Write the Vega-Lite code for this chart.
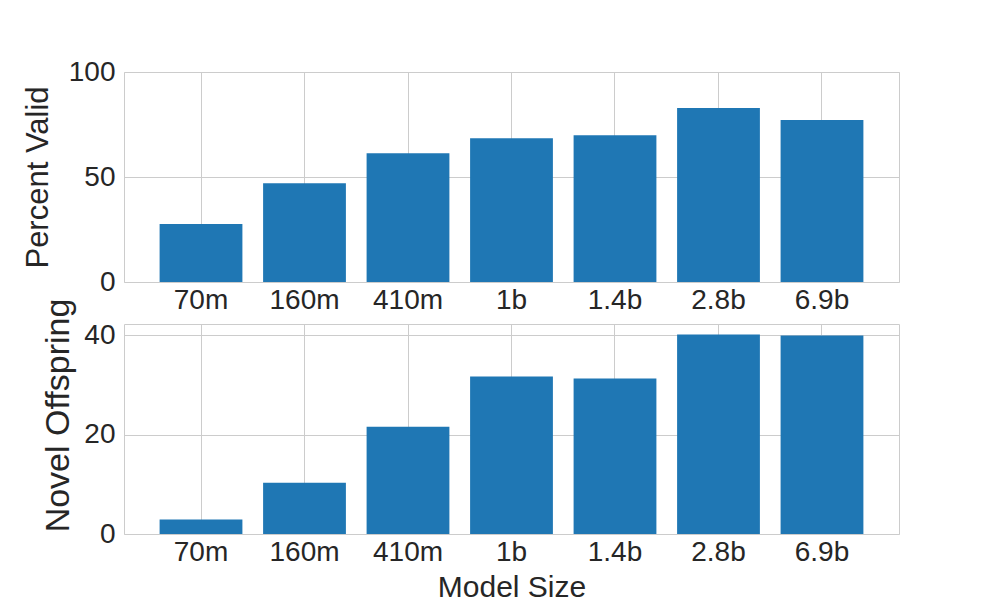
{
  "$schema": "https://vega.github.io/schema/vega-lite/v6.json",
  "data": {"values": [
    {"size": "70m", "valid": 27.6, "novel": 2.9},
    {"size": "160m", "valid": 47.0, "novel": 10.3},
    {"size": "410m", "valid": 61.3, "novel": 21.6},
    {"size": "1b", "valid": 68.5, "novel": 31.7},
    {"size": "1.4b", "valid": 69.9, "novel": 31.3},
    {"size": "2.8b", "valid": 82.8, "novel": 40.2},
    {"size": "6.9b", "valid": 77.1, "novel": 40.0}
  ]},
  "padding": {"left": 21, "top": 57, "right": 0, "bottom": 0},
  "spacing": 42,
  "bounds": "flush",
  "vconcat": [
    {
      "width": 775,
      "height": 210,
      "mark": {"type": "bar", "color": "#1f77b4"},
      "encoding": {
        "x": {"field": "size", "type": "nominal", "sort": null,
              "scale": {"paddingInner": 0.2, "paddingOuter": 0.344},
              "axis": {"title": null, "labelAngle": 0, "bandPosition": 0.5}},
        "y": {"field": "valid", "type": "quantitative",
              "scale": {"domain": [0, 100], "nice": false},
              "axis": {"title": "Percent Valid", "values": [0, 50, 100], "titleFontSize": 31, "titlePadding": 14}}
      }
    },
    {
      "width": 775,
      "height": 210,
      "mark": {"type": "bar", "color": "#1f77b4"},
      "encoding": {
        "x": {"field": "size", "type": "nominal", "sort": null,
              "scale": {"paddingInner": 0.2, "paddingOuter": 0.344},
              "axis": {"title": "Model Size", "labelAngle": 0, "bandPosition": 0.5, "titleFontSize": 30}},
        "y": {"field": "novel", "type": "quantitative",
              "scale": {"domain": [0, 42.3], "nice": false},
              "axis": {"title": "Novel Offspring", "values": [0, 20, 40], "titleFontSize": 34, "titleY": 91, "titlePadding": 8}}
      }
    }
  ],
  "config": {
    "font": "Liberation Sans",
    "view": {"stroke": "#cccccc", "strokeWidth": 1},
    "axis": {
      "grid": true,
      "gridColor": "#cccccc",
      "gridWidth": 1,
      "domain": false,
      "ticks": false,
      "labelFontSize": 28,
      "labelColor": "#262626",
      "titleColor": "#262626",
      "titleFontWeight": "normal",
      "labelFont": "Liberation Sans",
      "titleFont": "Liberation Sans"
    },
    "axisX": {"labelPadding": 4, "titlePadding": 6},
    "axisY": {"labelPadding": 9}
  }
}
